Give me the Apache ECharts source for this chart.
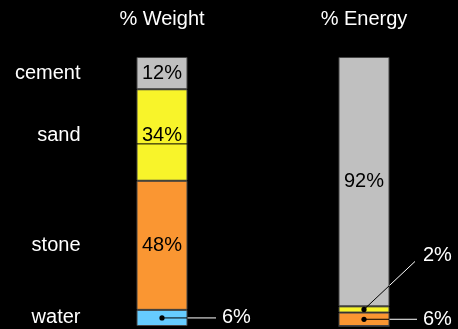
<!DOCTYPE html>
<html>
<head>
<meta charset="utf-8">
<script src="https://cdn.jsdelivr.net/npm/echarts@6/dist/echarts.min.js"></script>
<style>
html,body{margin:0;padding:0;background:#000;}
#chart{width:458px;height:329px;}
</style>
</head>
<body>
<div id="chart"></div>
<script>
// ---- data ----
const categories = ['% Weight', '% Energy'];
const materials = ['water', 'stone', 'sand', 'cement'];
const weightValues = [6, 48, 34, 12];
const energyValues = [0, 5, 2.3, 92.7];
const weightLabels = ['6%', '48%', '34%', '12%'];
const energyLabels = ['', '6%', '2%', '92%'];
const sandRuleValue = [67.7];

// ---- styles ----
const colors = ['#66ccff', '#fa9632', '#f8f42a', '#c0c0c0'];
const FONT = 'Liberation Sans, Arial, sans-serif';
const BAR_W = 51;
// which labels sit outside with a leader: [categoryIndex, materialIndex]
const outside = [[0, 0], [1, 1], [1, 2]];
const leaderOffsets = [[54, 0], [53, 0], [51, -48]];
const textOffsets = [[6, 0], [6, 0], [8, -6]];

function isOutside(c, m) { return outside.some(o => o[0] === c && o[1] === m); }
function cumMid(vals, m) {
  let s = 0; for (let i = 0; i < m; i++) s += vals[i];
  return s + vals[m] / 2;
}
const allValues = [weightValues, energyValues];
const allLabels = [weightLabels, energyLabels];

const barSeries = materials.map((name, m) => ({
  name: name,
  type: 'bar',
  stack: 'total',
  barWidth: BAR_W,
  clip: false,
  itemStyle: { color: colors[m], borderColor: '#454545', borderWidth: 1 },
  data: categories.map((c, ci) => ({
    value: allValues[ci][m],
    label: {
      show: allValues[ci][m] > 0 && !isOutside(ci, m),
      position: 'inside',
      formatter: allLabels[ci][m],
      color: '#000',
      fontSize: 20,
      fontFamily: FONT
    }
  }))
}));

const calloutData = outside.map(o => [o[0], cumMid(allValues[o[0]], o[1]), allLabels[o[0]][o[1]]]);

const calloutSeries = {
  type: 'custom',
  clip: false,
  z: 10,
  data: calloutData,
  renderItem: function (params, api) {
    const i = params.dataIndex;
    const p = api.coord([api.value(0), api.value(1)]);
    const off = leaderOffsets[i];
    const end = [p[0] + off[0], p[1] + off[1]];
    const t = (BAR_W / 2) / off[0];
    const edge = [p[0] + off[0] * t, p[1] + off[1] * t];
    const to = textOffsets[i];
    return {
      type: 'group',
      children: [
        { type: 'line', shape: { x1: p[0], y1: p[1], x2: edge[0], y2: edge[1] }, style: { stroke: '#000', lineWidth: 1 } },
        { type: 'line', shape: { x1: edge[0], y1: edge[1], x2: end[0], y2: end[1] }, style: { stroke: '#fff', lineWidth: 1 } },
        { type: 'circle', shape: { cx: p[0], cy: p[1], r: 2.6 }, style: { fill: '#000' } },
        { type: 'text', x: end[0] + to[0], y: end[1] + to[1],
          style: { text: calloutData[i][2], fill: '#fff', font: '20px ' + FONT, textAlign: 'left', textVerticalAlign: 'middle' } }
      ]
    };
  }
};

const nameSeries = {
  type: 'custom',
  clip: false,
  data: materials.map((n, m) => [0, cumMid(weightValues, m), n]),
  renderItem: function (params, api) {
    const p = api.coord([api.value(0), api.value(1)]);
    return {
      type: 'text', x: p[0] - BAR_W / 2 - 56, y: p[1],
      style: { text: materials[params.dataIndex], fill: '#fff', font: '20px ' + FONT, textAlign: 'right', textVerticalAlign: 'middle' }
    };
  }
};

const ruleSeries = {
  type: 'custom',
  clip: false,
  z: 5,
  data: sandRuleValue.map(v => [0, v]),
  renderItem: function (params, api) {
    const p = api.coord([api.value(0), api.value(1)]);
    return { type: 'line', shape: { x1: p[0] - BAR_W / 2, y1: p[1], x2: p[0] + BAR_W / 2, y2: p[1] }, style: { stroke: '#000', lineWidth: 1 } };
  }
};

const chart = echarts.init(document.getElementById('chart'));
chart.setOption({
  backgroundColor: '#000',
  animation: false,
  grid: { left: 162, right: 94, top: 57, bottom: 3 },
  xAxis: {
    type: 'category',
    position: 'top',
    boundaryGap: false,
    data: categories,
    axisLine: { show: false },
    axisTick: { show: false },
    splitLine: { show: false },
    axisLabel: { color: '#fff', fontSize: 20, fontFamily: FONT, margin: 28, interval: 0 }
  },
  yAxis: { type: 'value', min: 0, max: 100, show: false },
  series: barSeries.concat([ruleSeries, nameSeries, calloutSeries])
});
</script>
</body>
</html>
